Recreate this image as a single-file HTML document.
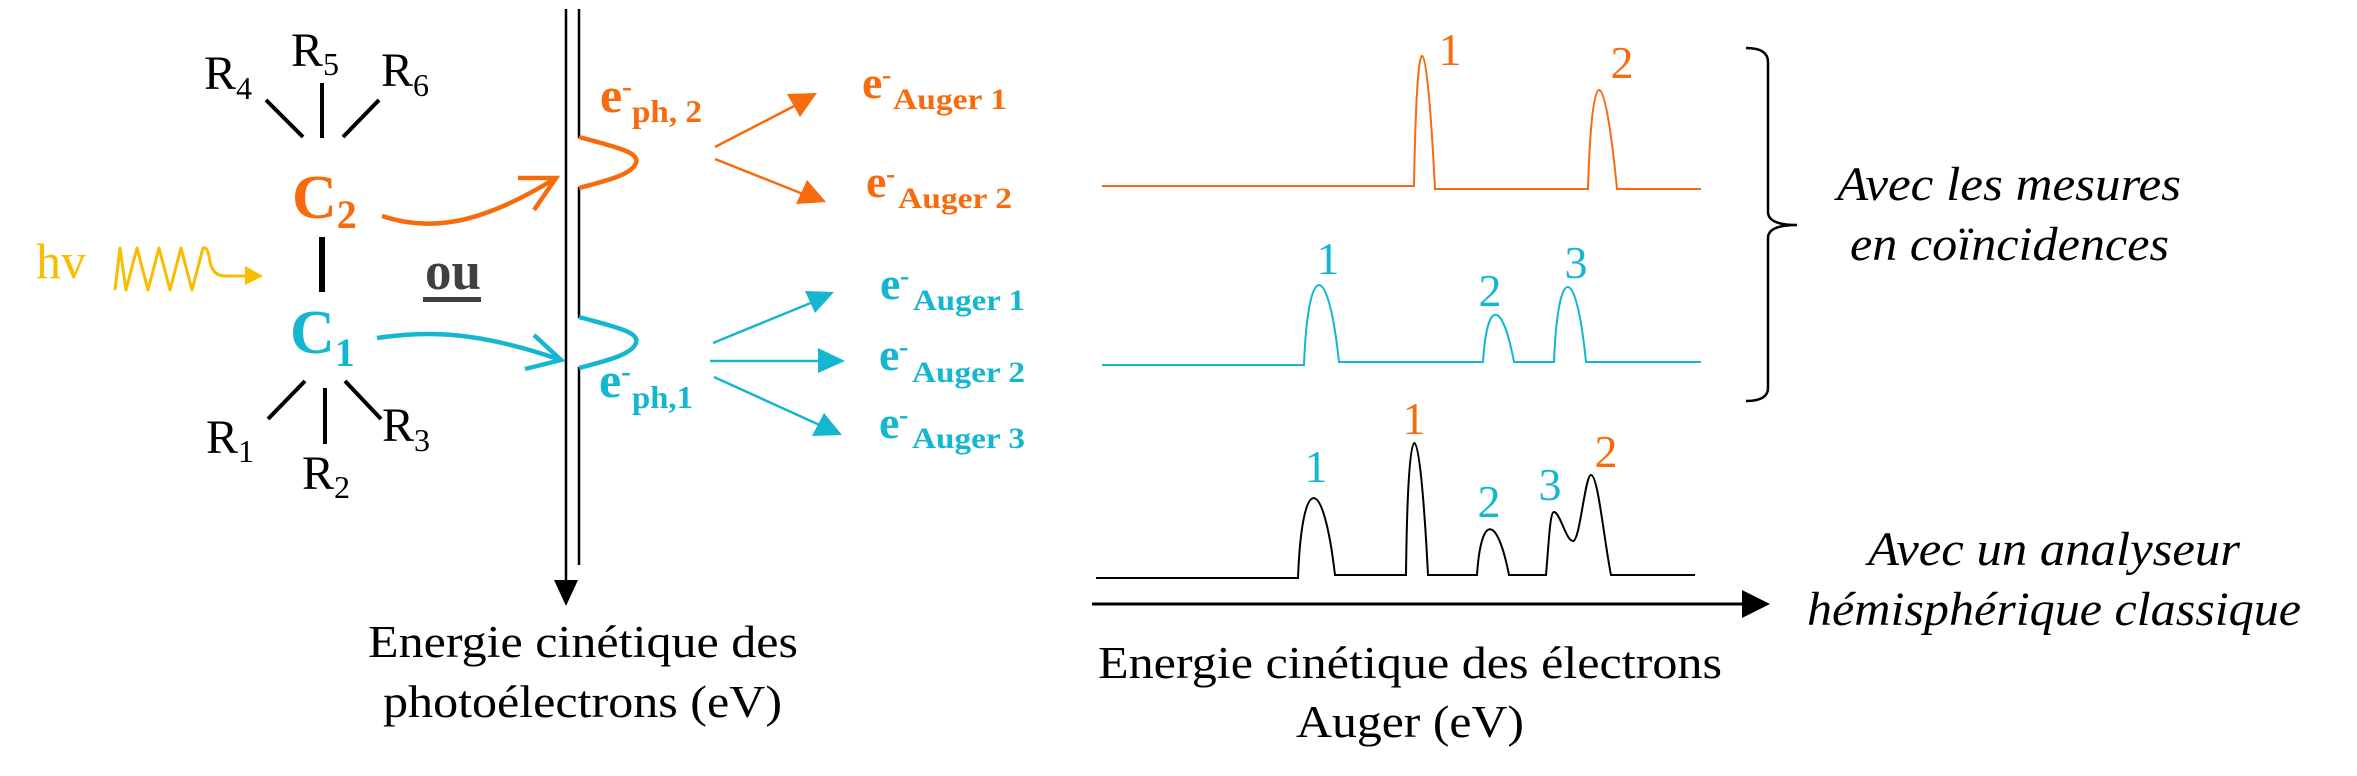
<!DOCTYPE html>
<html><head><meta charset="utf-8"><style>html,body{margin:0;padding:0;background:#fff}svg{display:block;font-family:"Liberation Serif","Times New Roman",Times,serif}svg text{font-family:"Liberation Serif","Times New Roman",Times,serif}</style></head>
<body>
<svg width="2357" height="776" viewBox="0 0 2357 776" xmlns="http://www.w3.org/2000/svg">
<defs>
<filter id="blur" x="-20%" y="-50%" width="140%" height="200%"><feGaussianBlur stdDeviation="6"/></filter>
</defs>
<line x1="566" y1="9" x2="566" y2="582" stroke="#000" stroke-width="2.5"/>
<polygon points="554,580 578,580 566,606" fill="#000"/>
<line x1="579" y1="9" x2="579" y2="138" stroke="#000" stroke-width="2.5"/>
<line x1="579" y1="187" x2="579" y2="318" stroke="#000" stroke-width="2.5"/>
<line x1="579" y1="367" x2="579" y2="565" stroke="#000" stroke-width="2.5"/>
<path d="M579,137 C615,147 640,152 636,163 C632,174 610,180 579,188" fill="none" stroke="#f76b0c" stroke-width="4.5"/>
<path d="M579,317 C615,327 640,332 636,343 C632,354 610,360 579,368" fill="none" stroke="#15b6cf" stroke-width="4.5"/>

<g fill="#000" font-size="48">
<text x="204" y="89">R<tspan font-size="32" dy="10">4</tspan></text>
<text x="291" y="66">R<tspan font-size="32" dy="9">5</tspan></text>
<text x="381" y="86">R<tspan font-size="32" dy="10">6</tspan></text>
<text x="206" y="453">R<tspan font-size="32" dy="9">1</tspan></text>
<text x="302" y="489">R<tspan font-size="32" dy="9">2</tspan></text>
<text x="382" y="441">R<tspan font-size="32" dy="10">3</tspan></text>
</g>
<g stroke="#000" stroke-width="4">
<line x1="266" y1="100" x2="303" y2="137"/>
<line x1="322" y1="83" x2="322" y2="138"/>
<line x1="379" y1="100" x2="343" y2="137"/>
<line x1="305" y1="381" x2="268" y2="419"/>
<line x1="325" y1="388" x2="325" y2="444"/>
<line x1="345" y1="381" x2="381" y2="419"/>
<line x1="322" y1="237" x2="322" y2="292" stroke-width="6"/>
</g>
<text x="292" y="218" font-size="62" font-weight="bold" fill="#f76b0c">C<tspan font-size="40" dy="10">2</tspan></text>
<text x="290" y="353" font-size="62" font-weight="bold" fill="#15b6cf">C<tspan font-size="40" dy="13">1</tspan></text>

<text x="36" y="278" font-size="50" fill="#f9bd00">hv</text>
<path d="M118,292 L232,292" stroke="#999" stroke-width="14" opacity="0.45" filter="url(#blur)"/>
<path d="M115,290 L120,248 L126,290 L137,248 L148,290 L159,248 L170,290 L181,248 L192,290 L203,248 Q208,246 210,262 Q213,276 225,276 L252,276" fill="none" stroke="#f9bd00" stroke-width="3" stroke-linejoin="round"/>
<polygon points="245,266 263,276 245,285" fill="#f9bd00"/>

<text x="425" y="289" font-size="54" font-weight="bold" fill="#404040" textLength="56" lengthAdjust="spacingAndGlyphs">ou</text>
<rect x="423" y="297" width="58" height="5" fill="#404040"/>

<path d="M382,216 C430,232 480,225 556,178" fill="none" stroke="#f76b0c" stroke-width="4.5"/>
<path d="M518,178 L556,178 L534,210" fill="none" stroke="#f76b0c" stroke-width="4.5"/>
<path d="M377,338 C430,330 480,332 561,360" fill="none" stroke="#15b6cf" stroke-width="4.5"/>
<path d="M534,335 L561,360 L525,369" fill="none" stroke="#15b6cf" stroke-width="4.5"/>

<g font-weight="bold" fill="#f76b0c">
<text x="600" y="112" font-size="50">e</text><text x="622" y="96" font-size="30">-</text>
<text x="632" y="122" font-size="32" textLength="70" lengthAdjust="spacingAndGlyphs">ph, 2</text>
<text x="862" y="98" font-size="46">e</text><text x="882" y="84" font-size="28">-</text>
<text x="893" y="109" font-size="30" textLength="114" lengthAdjust="spacingAndGlyphs">Auger 1</text>
<text x="866" y="197" font-size="46">e</text><text x="886" y="183" font-size="28">-</text>
<text x="898" y="208" font-size="30" textLength="114" lengthAdjust="spacingAndGlyphs">Auger 2</text>
</g>
<g font-weight="bold" fill="#15b6cf">
<text x="599" y="397" font-size="50">e</text><text x="621" y="381" font-size="30">-</text>
<text x="632" y="408" font-size="32" textLength="61" lengthAdjust="spacingAndGlyphs">ph,1</text>
<text x="880" y="299" font-size="46">e</text><text x="900" y="285" font-size="28">-</text>
<text x="913" y="310" font-size="30" textLength="112" lengthAdjust="spacingAndGlyphs">Auger 1</text>
<text x="879" y="370" font-size="46">e</text><text x="899" y="356" font-size="28">-</text>
<text x="912" y="382" font-size="30" textLength="113" lengthAdjust="spacingAndGlyphs">Auger 2</text>
<text x="879" y="438" font-size="46">e</text><text x="899" y="424" font-size="28">-</text>
<text x="912" y="448" font-size="30" textLength="113" lengthAdjust="spacingAndGlyphs">Auger 3</text>
</g>
<g stroke-width="2.5">
<line x1="715" y1="147" x2="800" y2="103" stroke="#f76b0c"/>
<polygon points="787,94 800,117 817,93" fill="#f76b0c"/>
<line x1="715" y1="159" x2="808" y2="196" stroke="#f76b0c"/>
<polygon points="807,180 796,204 826,202" fill="#f76b0c"/>
<line x1="713" y1="343" x2="818" y2="300" stroke="#15b6cf"/>
<polygon points="805,291 815,313 834,292" fill="#15b6cf"/>
<line x1="710" y1="361" x2="825" y2="361" stroke="#15b6cf"/>
<polygon points="818,348 818,373 845,361" fill="#15b6cf"/>
<line x1="714" y1="377" x2="824" y2="427" stroke="#15b6cf"/>
<polygon points="824,413 812,436 842,435" fill="#15b6cf"/>
</g>

<g font-size="45" fill="#000">
<text x="368" y="657" textLength="430" lengthAdjust="spacingAndGlyphs">Energie cinétique des</text>
<text x="383" y="717" textLength="399" lengthAdjust="spacingAndGlyphs">photoélectrons (eV)</text>
</g>

<path d="M1102,186 L1414,186 C1417,12 1426,12 1435,189 L1588,189 C1592,57 1604,57 1617,189 L1701,189" fill="none" stroke="#f76b0c" stroke-width="2"/>
<path d="M1102,365 L1304,365 C1308,259 1328,259 1339,362 L1483,362 C1487,299 1502,299 1514,362 L1554,362 C1558,262 1576,262 1586,362 L1701,362" fill="none" stroke="#15b6cf" stroke-width="2"/>
<path d="M1096,578 L1298,578 C1302,472 1323,472 1335,575 L1406,575 C1408,399 1419,399 1428,575 L1477,575 C1481,514 1497,514 1509,575 L1546,575 C1549,540 1550,512 1554,512 C1560,512 1566,541 1573,541 C1580,541 1585,475 1591,475 C1598,475 1604,540 1611,575 L1695,575" fill="none" stroke="#000" stroke-width="2"/>

<g font-size="46" text-anchor="middle">
<text x="1450" y="65" fill="#f76b0c">1</text>
<text x="1622" y="78" fill="#f76b0c">2</text>
<text x="1328" y="274" fill="#15b6cf">1</text>
<text x="1490" y="306" fill="#15b6cf">2</text>
<text x="1576" y="278" fill="#15b6cf">3</text>
<text x="1316" y="482" fill="#15b6cf">1</text>
<text x="1414" y="434" fill="#f76b0c">1</text>
<text x="1489" y="517" fill="#15b6cf">2</text>
<text x="1550" y="500" fill="#15b6cf">3</text>
<text x="1606" y="467" fill="#f76b0c">2</text>
</g>

<line x1="1092" y1="604" x2="1744" y2="604" stroke="#000" stroke-width="3"/>
<polygon points="1742,590 1770,604 1742,618" fill="#000"/>
<g font-size="45" fill="#000">
<text x="1098" y="678" textLength="624" lengthAdjust="spacingAndGlyphs">Energie cinétique des électrons</text>
<text x="1296" y="737" textLength="228" lengthAdjust="spacingAndGlyphs">Auger (eV)</text>
</g>

<path d="M1746,48 Q1768,48 1768,62 L1768,212 Q1768,225 1797,225 Q1768,225 1768,238 L1768,388 Q1768,401 1746,401" fill="none" stroke="#000" stroke-width="2.5"/>

<g font-size="48" font-style="italic" fill="#000">
<text x="1837" y="200" textLength="344" lengthAdjust="spacingAndGlyphs">Avec les mesures</text>
<text x="1850" y="260" textLength="319" lengthAdjust="spacingAndGlyphs">en coïncidences</text>
<text x="1868" y="565" textLength="372" lengthAdjust="spacingAndGlyphs">Avec un analyseur</text>
<text x="1807" y="625" textLength="494" lengthAdjust="spacingAndGlyphs">hémisphérique classique</text>
</g>
</svg>
</body></html>
